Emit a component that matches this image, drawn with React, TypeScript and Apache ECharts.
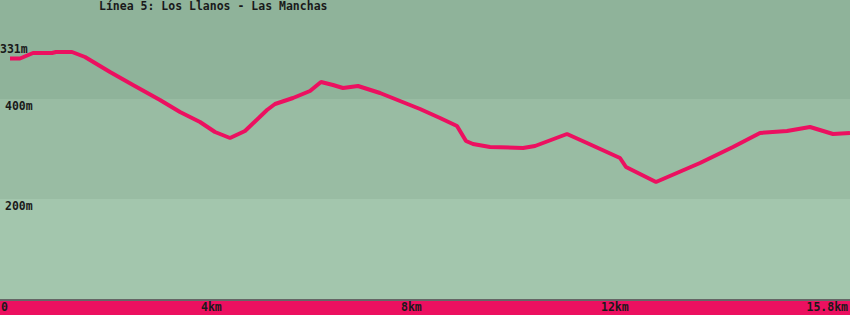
import React, { useEffect, useRef } from "react";
import * as echarts from "echarts";

const TITLE = "Línea 5: Los Llanos - Las Manchas";
const DIST_KM = [0.2, 0.4, 0.66, 1.04, 1.12, 1.44, 1.7, 2.2, 2.66, 3.2, 3.6, 4.0, 4.3, 4.6, 4.9, 5.34, 5.5, 5.86, 6.2, 6.42, 6.66, 6.86, 7.16, 7.6, 8.0, 8.4, 8.8, 9.14, 9.32, 9.46, 9.8, 10.46, 10.7, 11.34, 11.74, 12.4, 12.52, 13.12, 14.0, 14.66, 15.2, 15.74, 16.2, 16.66, 17.0];
const ELEV_M = [481, 481, 492, 492, 494, 494, 484, 454, 428, 398, 374, 354, 334, 322, 336, 378, 390, 402, 416, 434, 428, 422, 426, 412, 396, 380, 362, 346, 316, 310, 304, 302, 306, 330, 312, 282, 264, 234, 272, 304, 332, 336, 344, 330, 332];
const X_TICKS = [0, 4, 8, 12, 17];
const X_TICK_LABELS = ["0", "4km", "8km", "12km", "15.8km"];
const Y_TICKS = [200, 400, 515];
const Y_TICK_LABELS = ["200m", "400m", "331m"];
const Y_LABEL_INDENT = [5, 5, 0];
const BANDS = [
  [0, 200, "#a3c6ad"],
  [200, 400, "#99bca3"],
  [400, 598, "#8fb39a"],
];

const FONT = "DejaVu Sans Mono";
const TXT = { fontFamily: FONT, fontSize: 11.5, fontWeight: "bold", fill: "#1a1a1a" };

export default function App() {
  const ref = useRef<HTMLDivElement>(null);
  useEffect(() => {
    const chart = echarts.init(ref.current!, null, { renderer: "svg" });
    chart.setOption({
      animation: false,
      backgroundColor: "#ec1060",
      title: {
        text: TITLE,
        left: 99,
        top: 0,
        padding: 0,
        textStyle: { fontFamily: FONT, fontSize: 11.5, fontWeight: "bold", color: "#1a1a1a" },
      },
      grid: { left: 0, right: 0, top: 0, bottom: 16, outerBoundsMode: "none", containLabel: false },
      xAxis: {
        type: "value",
        min: 0,
        max: 17,
        offset: 1,
        axisLine: { show: true, lineStyle: { color: "#666666", width: 3 } },
        axisTick: { show: false },
        splitLine: { show: false },
        axisLabel: {
          customValues: X_TICKS,
          formatter: (v: number) => X_TICK_LABELS[X_TICKS.indexOf(v)] ?? "",
          align: "left",
          alignMaxLabel: "right",
          showMaxLabel: true,
          showMinLabel: true,
          margin: 1,
          padding: [0, 2, 0, 1],
          fontFamily: FONT,
          fontSize: 11.5,
          fontWeight: "bold",
          color: "#1a1a1a",
        },
      },
      yAxis: {
        type: "value",
        min: 0,
        max: 598,
        axisLine: { show: false },
        axisTick: { show: false },
        splitLine: { show: false },
        axisLabel: { show: false },
      },
      series: [
        {
          type: "line",
          data: DIST_KM.map((d, i) => [d, ELEV_M[i]]),
          showSymbol: false,
          lineStyle: { color: "#ec1060", width: 4 },
          z: 5,
          markArea: {
            silent: true,
            data: BANDS.map(([a, b, c]) => [
              { yAxis: a, itemStyle: { color: c as string, opacity: 1 } },
              { yAxis: b },
            ]),
          },
        },
      ],
    });
    const labels = Y_TICKS.map((v, i) => {
      const y = chart.convertToPixel({ yAxisIndex: 0 }, v) as number;
      return {
        type: "text",
        x: Y_LABEL_INDENT[i],
        y: y + 1,
        z: 10,
        style: { ...TXT, text: Y_TICK_LABELS[i], textVerticalAlign: "top", verticalAlign: "top" },
      };
    });
    chart.setOption({ graphic: labels });
    return () => chart.dispose();
  }, []);
  return <div ref={ref} style={{ width: 850, height: 315, position: "absolute", left: 0, top: 0 }} />;
}
